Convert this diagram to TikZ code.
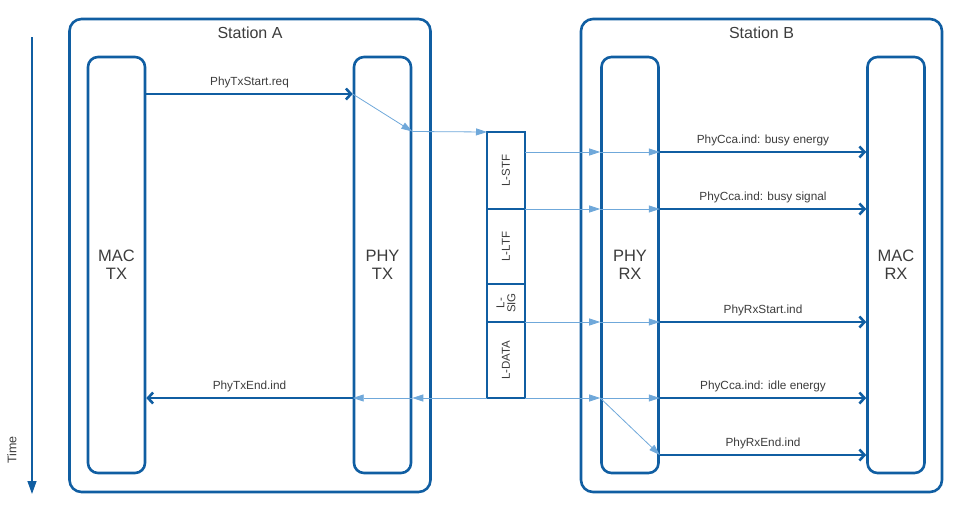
\documentclass[tikz,border=0pt]{standalone}
\usepackage{fontspec}
\setmainfont{Liberation Sans}
\usetikzlibrary{arrows.meta}
\definecolor{dblue}{RGB}{16,94,162}
\definecolor{lblue}{RGB}{111,168,218}
\definecolor{txt}{RGB}{60,60,60}

\begin{document}
\begin{tikzpicture}[x=1pt,y=-1pt,every node/.style={text=txt,font=\fontsize{11.8}{13}\selectfont},
  station/.style={draw=dblue,line width=2.6pt,rounded corners=12pt,minimum width=361pt,minimum height=473pt},
  layer/.style={draw=dblue,line width=2.6pt,rounded corners=10pt,minimum width=57pt,minimum height=416pt,align=center,font=\fontsize{16.5}{18}\selectfont},
  field/.style={draw=dblue,line width=2.6pt,minimum width=38pt,inner sep=0pt,outer sep=0pt,font=\fontsize{11.5}{12}\selectfont},
  prim/.style={draw=dblue,line width=2.6pt,-{Straight Barb[length=5pt,width=11pt]}},
  air/.style={draw=lblue,line width=0.8pt,-{Triangle[length=11pt,width=7pt]}}]
  \useasboundingbox (0,0) rectangle (961,504);
  \node[station] (staA) at (250,255.5) {};
  \node[station] (staB) at (761.5,255.5) {};
  \node[font=\fontsize{16}{18}\selectfont] (labA) at (250,33) {Station A};
  \node[font=\fontsize{16}{18}\selectfont] (labB) at (761.5,33) {Station B};
  \node[layer] (mactx) at (116.5,265) {MAC\\TX};
  \node[layer] (phytx) at (382.5,265) {PHY\\TX};
  \node[layer] (phyrx) at (630,265) {PHY\\RX};
  \node[layer] (macrx) at (896,265) {MAC\\RX};
  \node[field,minimum height=77pt] (stf) at (506,170.5) {\rotatebox{90}{L-STF}};
  \node[field,minimum height=75pt,anchor=north] (ltf) at (stf.south) {\rotatebox{90}{L-LTF}};
  \node[field,minimum height=38pt,anchor=north] (sig) at (ltf.south) {\rotatebox{90}{\shortstack{L-\\SIG}}};
  \node[field,minimum height=76pt,anchor=north] (data) at (sig.south) {\rotatebox{90}{L-DATA}};
  \node[rotate=90,font=\fontsize{12.5}{14}\selectfont] (time) at (12,450) {Time};
  \draw[dblue,line width=1.4pt,-{Triangle[length=13pt,width=9pt]}] (32,37) coordinate (t0) -- (32,494) coordinate (t1);
  \coordinate (y0) at (0,94);
  \coordinate (y1) at (0,131.5);
  \coordinate (y2) at (0,152);
  \coordinate (y6) at (0,455);
  % station A
  \draw[prim] (mactx.east |- y0) -- node[above=1pt] {PhyTxStart.req} (phytx.west |- y0);
  \draw[air] (phytx.west |- y0) -- (phytx.east |- y1);
  \draw[air] (phytx.east |- y1) -- (stf.north west);
  \draw[air] (data.south west) -- (phytx.east |- data.south);
  \draw[air] (phytx.east |- data.south) -- (phytx.west |- data.south);
  \draw[prim] (phytx.west |- data.south) -- node[above=1pt] {PhyTxEnd.ind} (mactx.east |- data.south);
  % station B
  \draw[air] (stf.east |- y2) -- (phyrx.west |- y2);
  \draw[air] (phyrx.west |- y2) -- (phyrx.east |- y2);
  \draw[prim] (phyrx.east |- y2) -- node[above=1pt] {PhyCca.ind: busy energy} (macrx.west |- y2);
  \draw[air] (stf.south east) -- (phyrx.west |- stf.south);
  \draw[air] (phyrx.west |- stf.south) -- (phyrx.east |- stf.south);
  \draw[prim] (phyrx.east |- stf.south) -- node[above=1pt] {PhyCca.ind: busy signal} (macrx.west |- stf.south);
  \draw[air] (sig.south east) -- (phyrx.west |- sig.south);
  \draw[air] (phyrx.west |- sig.south) -- (phyrx.east |- sig.south);
  \draw[prim] (phyrx.east |- sig.south) -- node[above=1pt] {PhyRxStart.ind} (macrx.west |- sig.south);
  \draw[air] (data.south east) -- (phyrx.west |- data.south);
  \draw[air] (phyrx.west |- data.south) -- (phyrx.east |- data.south);
  \draw[prim] (phyrx.east |- data.south) -- node[above=1pt] {PhyCca.ind: idle energy} (macrx.west |- data.south);
  \draw[air] (phyrx.west |- data.south) -- (phyrx.east |- y6);
  \draw[prim] (phyrx.east |- y6) -- node[above=1pt] {PhyRxEnd.ind} (macrx.west |- y6);
\end{tikzpicture}
\end{document}
